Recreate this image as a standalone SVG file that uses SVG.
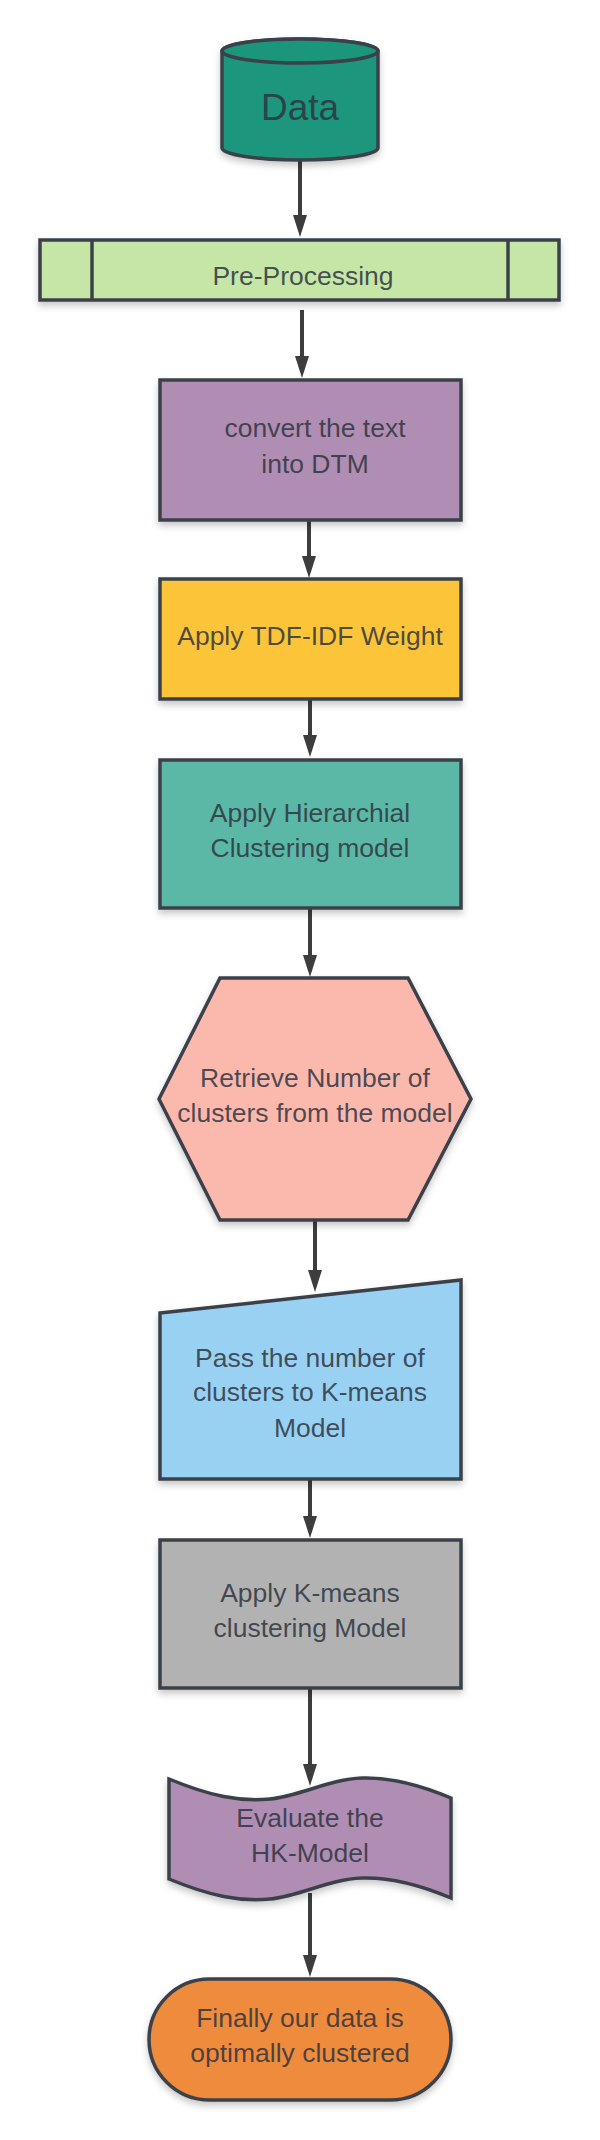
<svg xmlns="http://www.w3.org/2000/svg" width="600" height="2140" viewBox="0 0 600 2140">
<style>
.s{stroke:#3a4149;stroke-width:3.5;stroke-linejoin:miter}
.t{font-family:"Liberation Sans",Arial,sans-serif;font-size:26.5px;fill:#2e3440;fill-opacity:0.85;text-anchor:middle}
.c{stroke:#3d3d3d;stroke-width:4;fill:none}
</style>
<defs>
<filter id="sh" x="-20%" y="-20%" width="140%" height="150%">
<feDropShadow dx="0" dy="4" stdDeviation="3.5" flood-color="#000" flood-opacity="0.22"/>
</filter>
<marker id="ah" markerUnits="userSpaceOnUse" markerWidth="24" markerHeight="15" refX="12" refY="7" orient="auto">
<path d="M0,0 L22,7 L0,14 Z" fill="#3d3d3d"/>
</marker>
</defs>
<rect width="600" height="2140" fill="#ffffff"/>

<g id="connectors">
<line class="c" x1="300" y1="161" x2="300" y2="227" marker-end="url(#ah)"/>
<line class="c" x1="302" y1="310" x2="302" y2="368" marker-end="url(#ah)"/>
<line class="c" x1="309" y1="521" x2="309" y2="568" marker-end="url(#ah)"/>
<line class="c" x1="310" y1="700" x2="310" y2="747" marker-end="url(#ah)"/>
<line class="c" x1="310" y1="909" x2="310" y2="967" marker-end="url(#ah)"/>
<line class="c" x1="315" y1="1221" x2="315" y2="1282" marker-end="url(#ah)"/>
<line class="c" x1="310" y1="1480" x2="310" y2="1528" marker-end="url(#ah)"/>
<line class="c" x1="310" y1="1689" x2="310" y2="1776" marker-end="url(#ah)"/>
<line class="c" x1="310" y1="1893" x2="310" y2="1967" marker-end="url(#ah)"/>
</g>

<g id="node-data">
<path class="s" filter="url(#sh)" d="M222,51 L222,148 A78,12 0 0 0 378,148 L378,51 A78,12 0 0 0 222,51 Z" fill="#1b967b"/>
<ellipse class="s" cx="300" cy="51" rx="78" ry="12" fill="#1b967b"/>
<text class="t" x="300" y="120" style="font-size:37px">Data</text>
</g>

<g id="node-preprocessing">
<rect class="s" filter="url(#sh)" x="40" y="240" width="519" height="60" fill="#c5e6a6"/>
<line class="s" x1="92" y1="240" x2="92" y2="300"/>
<line class="s" x1="508" y1="240" x2="508" y2="300"/>
<text class="t" x="303" y="285">Pre-Processing</text>
</g>

<g id="node-dtm">
<rect class="s" filter="url(#sh)" x="160" y="380" width="301" height="140" fill="#b08db3"/>
<text class="t" x="315" y="437">convert the text</text>
<text class="t" x="315" y="473">into DTM</text>
</g>

<g id="node-tfidf">
<rect class="s" filter="url(#sh)" x="160" y="579" width="301" height="120" fill="#fcc438"/>
<text class="t" x="310" y="645">Apply TDF-IDF Weight</text>
</g>

<g id="node-hierarchical">
<rect class="s" filter="url(#sh)" x="160" y="760" width="301" height="148" fill="#5cb8a6"/>
<text class="t" x="310" y="822">Apply Hierarchial</text>
<text class="t" x="310" y="857">Clustering model</text>
</g>

<g id="node-retrieve">
<polygon class="s" filter="url(#sh)" points="220,978 408,978 471,1099 408,1220 220,1220 159,1099" fill="#fbb9ae"/>
<text class="t" x="315" y="1087">Retrieve Number of</text>
<text class="t" x="315" y="1122">clusters from the model</text>
</g>

<g id="node-pass">
<polygon class="s" filter="url(#sh)" points="160,1313 461,1280 461,1479 160,1479" fill="#99d1f3"/>
<text class="t" x="310" y="1367">Pass the number of</text>
<text class="t" x="310" y="1401">clusters to K-means</text>
<text class="t" x="310" y="1437">Model</text>
</g>

<g id="node-kmeans">
<rect class="s" filter="url(#sh)" x="160" y="1540" width="301" height="148" fill="#b2b2b2"/>
<text class="t" x="310" y="1602">Apply K-means</text>
<text class="t" x="310" y="1637">clustering Model</text>
</g>

<g id="node-evaluate">
<path class="s" filter="url(#sh)" fill="#b08db3" d="M169,1779 C210,1796 240,1802 270,1799 C300,1796 330,1779 362,1778 C395,1777 425,1787 451,1798 L451,1898 C425,1887 395,1877 362,1878 C330,1879 300,1896 270,1899 C240,1902 210,1896 169,1879 Z"/>
<text class="t" x="310" y="1827">Evaluate the</text>
<text class="t" x="310" y="1862">HK-Model</text>
</g>

<g id="node-final">
<rect class="s" filter="url(#sh)" x="149" y="1979" width="302" height="121" rx="60.5" ry="60.5" fill="#ef8b3d"/>
<text class="t" x="300" y="2027">Finally our data is</text>
<text class="t" x="300" y="2062">optimally clustered</text>
</g>
</svg>
